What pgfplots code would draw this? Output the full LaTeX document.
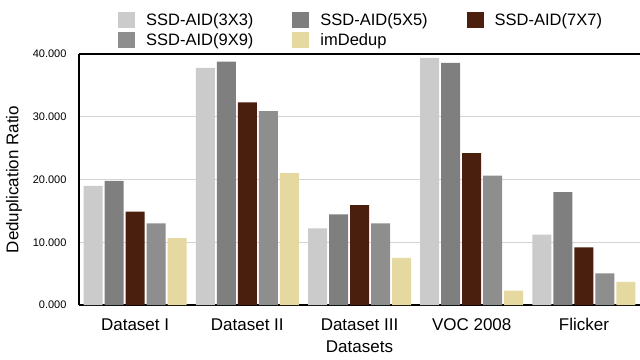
\documentclass[border=0pt]{standalone}
\usepackage{pgfplots}
\pgfplotsset{compat=1.18}
\usepackage{fontspec}
\setmainfont{Liberation Sans}
\definecolor{cA}{HTML}{CBCBCB}
\definecolor{cB}{HTML}{7F7F7F}
\definecolor{cC}{HTML}{4A1F0E}
\definecolor{cD}{HTML}{8E8E8E}
\definecolor{cE}{HTML}{E5D8A1}
\definecolor{gridc}{HTML}{D4D4D4}
\begin{document}
\begin{tikzpicture}
\useasboundingbox (-79pt,-54pt) rectangle (561pt,305pt);
\begin{axis}[
  at={(0,0)}, anchor=south west,
  scale only axis,
  width=561pt, height=251pt,
  ybar=2pt, bar width=19pt,
  xmin=-0.5, xmax=4.5,
  ymin=0, ymax=40,
  xtick={0,1,2,3,4},
  xticklabels={Dataset I,Dataset II,Dataset III,VOC 2008,Flicker},
  ytick={0,10,20,30,40},
  major tick length=0pt,
  axis x line*=box, axis y line*=left,
  axis line style={line width=1.1pt, black},
  ymajorgrids, grid style={gridc, line width=0.8pt},
  yticklabel style={font=\fontsize{11}{13}\selectfont, anchor=east, xshift=-9pt,
    /pgf/number format/.cd, fixed, fixed zerofill, precision=3, assume math mode=true},
  xticklabel style={font=\fontsize{17}{20}\selectfont, anchor=base, yshift=-25pt},
  ylabel={Deduplication Ratio},
  ylabel style={font=\fontsize{17}{20}\selectfont, at={(axis description cs:-0.1159,0.5)}, anchor=center},
  xlabel={Datasets},
  xlabel style={font=\fontsize{17}{20}\selectfont, at={(axis description cs:0.5,-0.167)}, anchor=center},
  legend columns=3,
  legend cell align=left,
  legend style={draw=none, fill=none, font=\fontsize{16.5}{19}\selectfont,
    at={(axis description cs:0.0695,1.014)}, anchor=south west,
    inner sep=0pt, row sep=0pt, nodes={inner sep=0pt, minimum height=20pt},
    /tikz/every odd column/.append style={column sep=11pt},
    /tikz/every even column/.append style={column sep=39pt}},
  legend image code/.code={\fill[#1] (0pt,-8pt) rectangle (17pt,8pt);},
]
\addplot[fill=cA, draw=none] coordinates {(0,19.0) (1,37.8) (2,12.2) (3,39.4) (4,11.2)};
\addplot[fill=cB, draw=none] coordinates {(0,19.8) (1,38.8) (2,14.45) (3,38.6) (4,18.0)};
\addplot[fill=cC, draw=none] coordinates {(0,14.9) (1,32.3) (2,15.9) (3,24.2) (4,9.2)};
\addplot[fill=cD, draw=none] coordinates {(0,13.0) (1,30.9) (2,13.0) (3,20.6) (4,5.05)};
\addplot[fill=cE, draw=none] coordinates {(0,10.65) (1,21.0) (2,7.5) (3,2.3) (4,3.7)};
\legend{SSD-AID(3X3),SSD-AID(5X5),SSD-AID(7X7),SSD-AID(9X9),imDedup}
\end{axis}
\end{tikzpicture}
\end{document}
